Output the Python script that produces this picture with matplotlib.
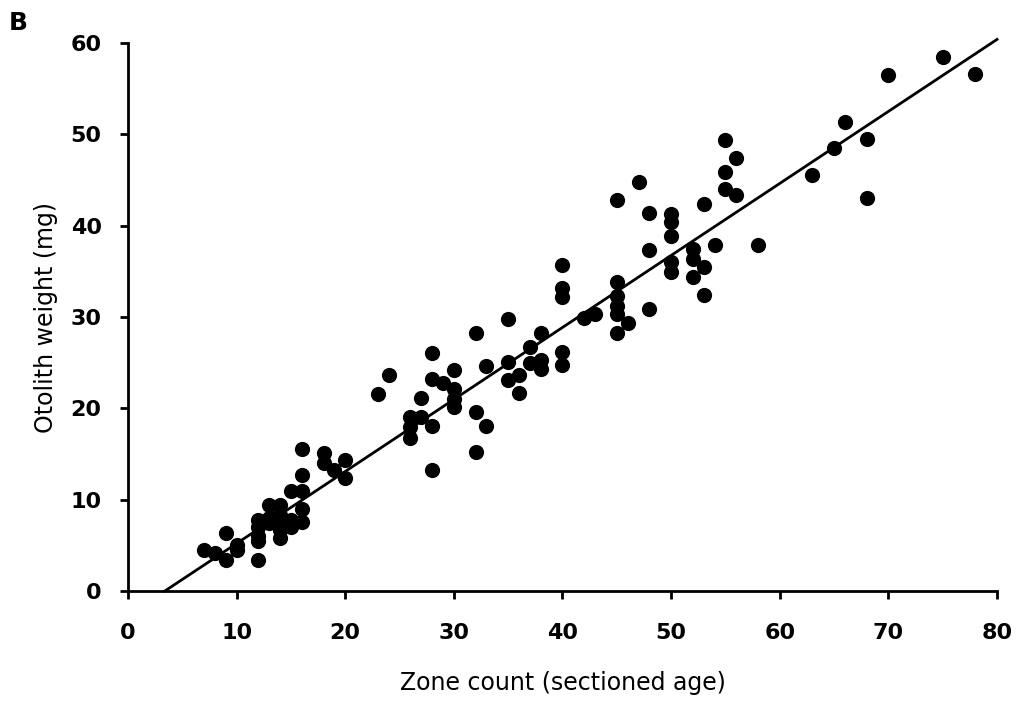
import matplotlib.pyplot as plt

# ------------- Data -----------------------------------
# zone count (sectioned age) and otolith weight (mg)
zone_count = [7, 8, 9, 9, 10, 10, 12, 12, 12, 12, 12, 13, 13, 13, 14, 14, 14, 14, 14,
              15, 15, 15, 16, 16, 16, 16, 16, 18, 18, 19, 20, 20,
              23, 24, 26, 26, 26, 27, 27, 28, 28, 28, 28, 29, 30, 30, 30, 30,
              32, 32, 32, 33, 33, 35, 35, 35, 36, 36, 37, 37, 38, 38, 38,
              40, 40, 40, 40, 40, 42, 43, 45, 45, 45, 45, 45, 45, 46, 47,
              48, 48, 48, 50, 50, 50, 50, 50, 52, 52, 52, 53, 53, 53, 54,
              55, 55, 55, 56, 56, 58, 63, 65, 66, 68, 68, 70, 75, 78]
otolith_weight = [4.5, 4.2, 6.3, 3.4, 5.0, 4.5, 7.8, 7.0, 6.0, 5.5, 3.4, 9.4, 8.0, 7.5, 9.4, 8.3, 6.7, 5.8, 7.2,
                  11.0, 7.8, 7.0, 15.6, 12.7, 11.0, 9.0, 7.6, 15.1, 14.0, 13.2, 14.3, 12.4,
                  21.6, 23.6, 19.1, 18.0, 16.7, 19.1, 21.1, 26.1, 23.2, 18.1, 13.2, 22.8, 24.2, 22.1, 21.0, 20.2,
                  28.2, 19.6, 15.2, 24.6, 18.1, 29.8, 25.1, 23.1, 21.7, 23.7, 25.0, 26.7, 28.2, 25.3, 24.3,
                  35.7, 33.2, 32.2, 26.2, 24.7, 29.9, 30.3, 42.8, 33.8, 32.3, 31.2, 30.3, 28.3, 29.3, 44.8,
                  41.4, 37.3, 30.9, 41.3, 40.4, 38.9, 36.0, 34.9, 37.5, 36.4, 34.4, 35.5, 32.4, 42.4, 37.9,
                  49.4, 45.9, 44.0, 47.4, 43.4, 37.9, 45.5, 48.5, 51.4, 49.5, 43.0, 56.5, 58.5, 56.6]

# fitted regression line end points
line_x = [3.4, 80]
line_y = [0, 60.4]

# ------------- Plot --------------
plt.rcParams['font.family'] = ['DejaVu Sans']

fig = plt.figure(figsize=(10.18, 7.06), dpi=100)
ax = fig.add_axes([0.1257, 0.1629, 0.8537, 0.7761])

ax.scatter(zone_count, otolith_weight, s=120, color='black', zorder=3, linewidths=0)
ax.plot(line_x, line_y, color='black', lw=2, zorder=2, clip_on=False)

ax.set_xlim(0, 80)
ax.set_ylim(0, 60)
ax.set_xticks(range(0, 81, 10))
ax.set_yticks(range(0, 61, 10))

for side in ['top', 'right']:
    ax.spines[side].set_visible(False)
for side in ['left', 'bottom']:
    ax.spines[side].set_linewidth(2)
ax.tick_params(direction='out', length=6, width=2, labelsize=16)
ax.tick_params(axis='x', pad=17)
ax.tick_params(axis='y', pad=13)
for lab in ax.get_xticklabels() + ax.get_yticklabels():
    lab.set_fontweight('bold')

ax.set_xlabel('Zone count (sectioned age)', fontsize=17, labelpad=20)
ax.set_ylabel('Otolith weight (mg)', fontsize=17, labelpad=9)

fig.text(0.009, 0.95, 'B', fontsize=18, fontweight='bold', va='bottom')

fig.savefig('out.png', dpi=100)
